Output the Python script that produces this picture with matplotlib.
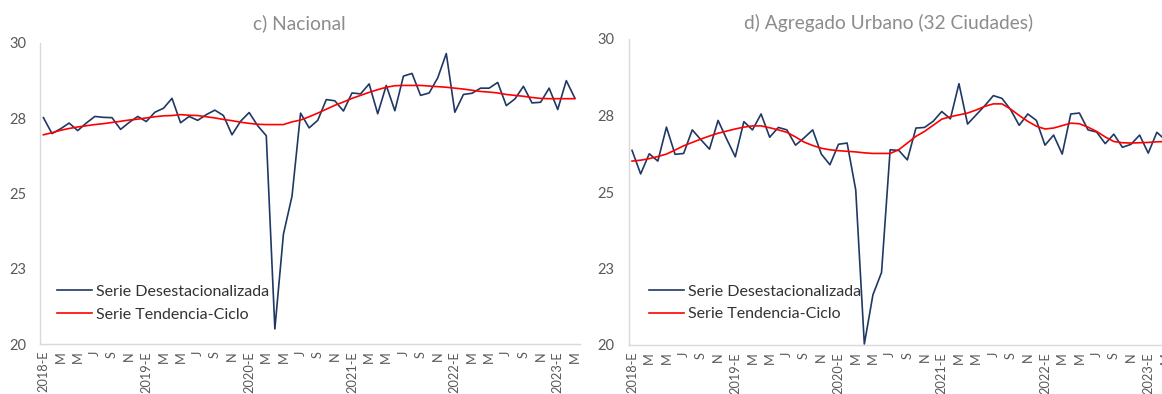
import numpy as np
import matplotlib
matplotlib.use("Agg")
import matplotlib.pyplot as plt

plt.rcParams['font.family'] = ['Lato', 'DejaVu Sans']

# Monthly series, Jan 2018 - Mar 2023
years = list(range(2018, 2024))
month_letters = ['E', 'F', 'M', 'A', 'M', 'J', 'J', 'A', 'S', 'O', 'N', 'D']
n_months = 63

nacional_desest = [
    27.52, 26.99, 27.15, 27.34, 27.09, 27.34, 27.56, 27.53, 27.52, 27.13,
    27.36, 27.56, 27.39, 27.70, 27.83, 28.16, 27.35, 27.56, 27.43, 27.62,
    27.77, 27.59, 26.95, 27.40, 27.69, 27.25, 26.92, 20.50, 23.65, 24.91,
    27.67, 27.18, 27.43, 28.12, 28.08, 27.74, 28.34, 28.31, 28.64, 27.65,
    28.59, 27.75, 28.90, 28.99, 28.26, 28.34, 28.84, 29.65, 27.70, 28.29,
    28.33, 28.50, 28.50, 28.69, 27.92, 28.14, 28.56, 28.01, 28.03, 28.50,
    27.79, 28.75, 28.17,
]
nacional_tend = [
    26.95, 27.02, 27.10, 27.16, 27.21, 27.25, 27.29, 27.32, 27.36, 27.40,
    27.44, 27.47, 27.51, 27.55, 27.58, 27.59, 27.62, 27.60, 27.59, 27.55,
    27.51, 27.46, 27.42, 27.37, 27.33, 27.30, 27.29, 27.29, 27.29, 27.38,
    27.44, 27.55, 27.67, 27.80, 27.93, 28.04, 28.16, 28.26, 28.36, 28.45,
    28.53, 28.58, 28.59, 28.59, 28.59, 28.57, 28.55, 28.53, 28.50, 28.47,
    28.43, 28.39, 28.37, 28.34, 28.29, 28.26, 28.23, 28.19, 28.16, 28.15,
    28.15, 28.15, 28.15,
]
urbano_desest = [
    26.36, 25.59, 26.25, 26.01, 27.12, 26.23, 26.26, 27.03, 26.71, 26.40,
    27.34, 26.73, 26.15, 27.30, 27.03, 27.55, 26.79, 27.11, 27.03, 26.53,
    26.77, 27.03, 26.24, 25.89, 26.56, 26.60, 25.07, 20.03, 21.64, 22.37,
    26.38, 26.36, 26.05, 27.09, 27.11, 27.31, 27.63, 27.39, 28.54, 27.22,
    27.52, 27.82, 28.15, 28.06, 27.69, 27.18, 27.55, 27.34, 26.53, 26.86,
    26.24, 27.55, 27.58, 27.03, 26.96, 26.58, 26.89, 26.46, 26.56, 26.86,
    26.27, 26.95, 26.70,
]
urbano_tend = [
    26.01, 26.04, 26.09, 26.16, 26.24, 26.37, 26.51, 26.62, 26.73, 26.83,
    26.92, 26.99, 27.06, 27.12, 27.16, 27.16, 27.10, 27.03, 26.95, 26.80,
    26.63, 26.52, 26.43, 26.38, 26.35, 26.33, 26.31, 26.28, 26.26, 26.26,
    26.26, 26.38, 26.60, 26.82, 26.98, 27.18, 27.38, 27.46, 27.52, 27.58,
    27.68, 27.80, 27.88, 27.88, 27.71, 27.50, 27.31, 27.15, 27.06, 27.09,
    27.17, 27.25, 27.23, 27.12, 26.98, 26.80, 26.65, 26.61, 26.60, 26.61,
    26.62, 26.64, 26.65,
]

y_ticks = [20, 22.5, 25, 27.5, 30]

x = np.arange(n_months)
x_labels = []
for i in range(n_months):
    m = i % 12
    if m == 0:
        x_labels.append(f"{years[i // 12]}-E")
    else:
        x_labels.append(month_letters[m])

BLUE = '#1f3864'
RED = '#ff0000'
GRID = '#d9d9d9'
TXT = '#595959'

fig = plt.figure(figsize=(11.62, 3.94), dpi=100)
ax1 = fig.add_axes([40 / 1162, 50 / 394, 540 / 1162, 301 / 394])
ax2 = fig.add_axes([628.6 / 1162, 49 / 394, 542 / 1162, 306 / 394])


def style_panel(ax, desest, tend, title, title_xy, leg_xy):
    ax.plot(x, desest, color=BLUE, lw=1.2, label='Serie Desestacionalizada')
    ax.plot(x, tend, color=RED, lw=1.2, label='Serie Tendencia-Ciclo')
    ax.set_xlim(-0.4, n_months - 0.4)
    ax.set_ylim(20, 30)
    ax.set_yticks(y_ticks)
    ax.set_yticklabels([str(int(v + 0.5)) for v in y_ticks])
    ax.set_xticks(x[::2])
    ax.set_xticklabels(x_labels[::2], rotation=90)
    for s in ['top', 'right']:
        ax.spines[s].set_visible(False)
    for s in ['left', 'bottom']:
        ax.spines[s].set_color(GRID)
        ax.spines[s].set_linewidth(1.0)
    ax.tick_params(axis='both', length=0, colors=TXT)
    ax.tick_params(axis='y', labelsize=10.5, pad=10)
    ax.tick_params(axis='x', labelsize=9.2, pad=5)
    ax.set_title(title, color='#8c8c8c', fontsize=13.8, pad=0,
                 x=title_xy[0], y=title_xy[1], va='center')
    leg = ax.legend(loc='lower left', bbox_to_anchor=leg_xy, borderaxespad=0,
                    frameon=False, fontsize=11.5, handlelength=2.2,
                    handletextpad=0.25, labelspacing=0.55)
    for t in leg.get_texts():
        t.set_color('#333333')


style_panel(ax1, nacional_desest, nacional_tend, 'c) Nacional',
            (0.481, 1.066), (0.020, 0.053))
style_panel(ax2, urbano_desest, urbano_tend, 'd) Agregado Urbano (32 Ciudades)',
            (0.479, 1.052), (0.026, 0.056))

fig.savefig('out.png', dpi=100)
